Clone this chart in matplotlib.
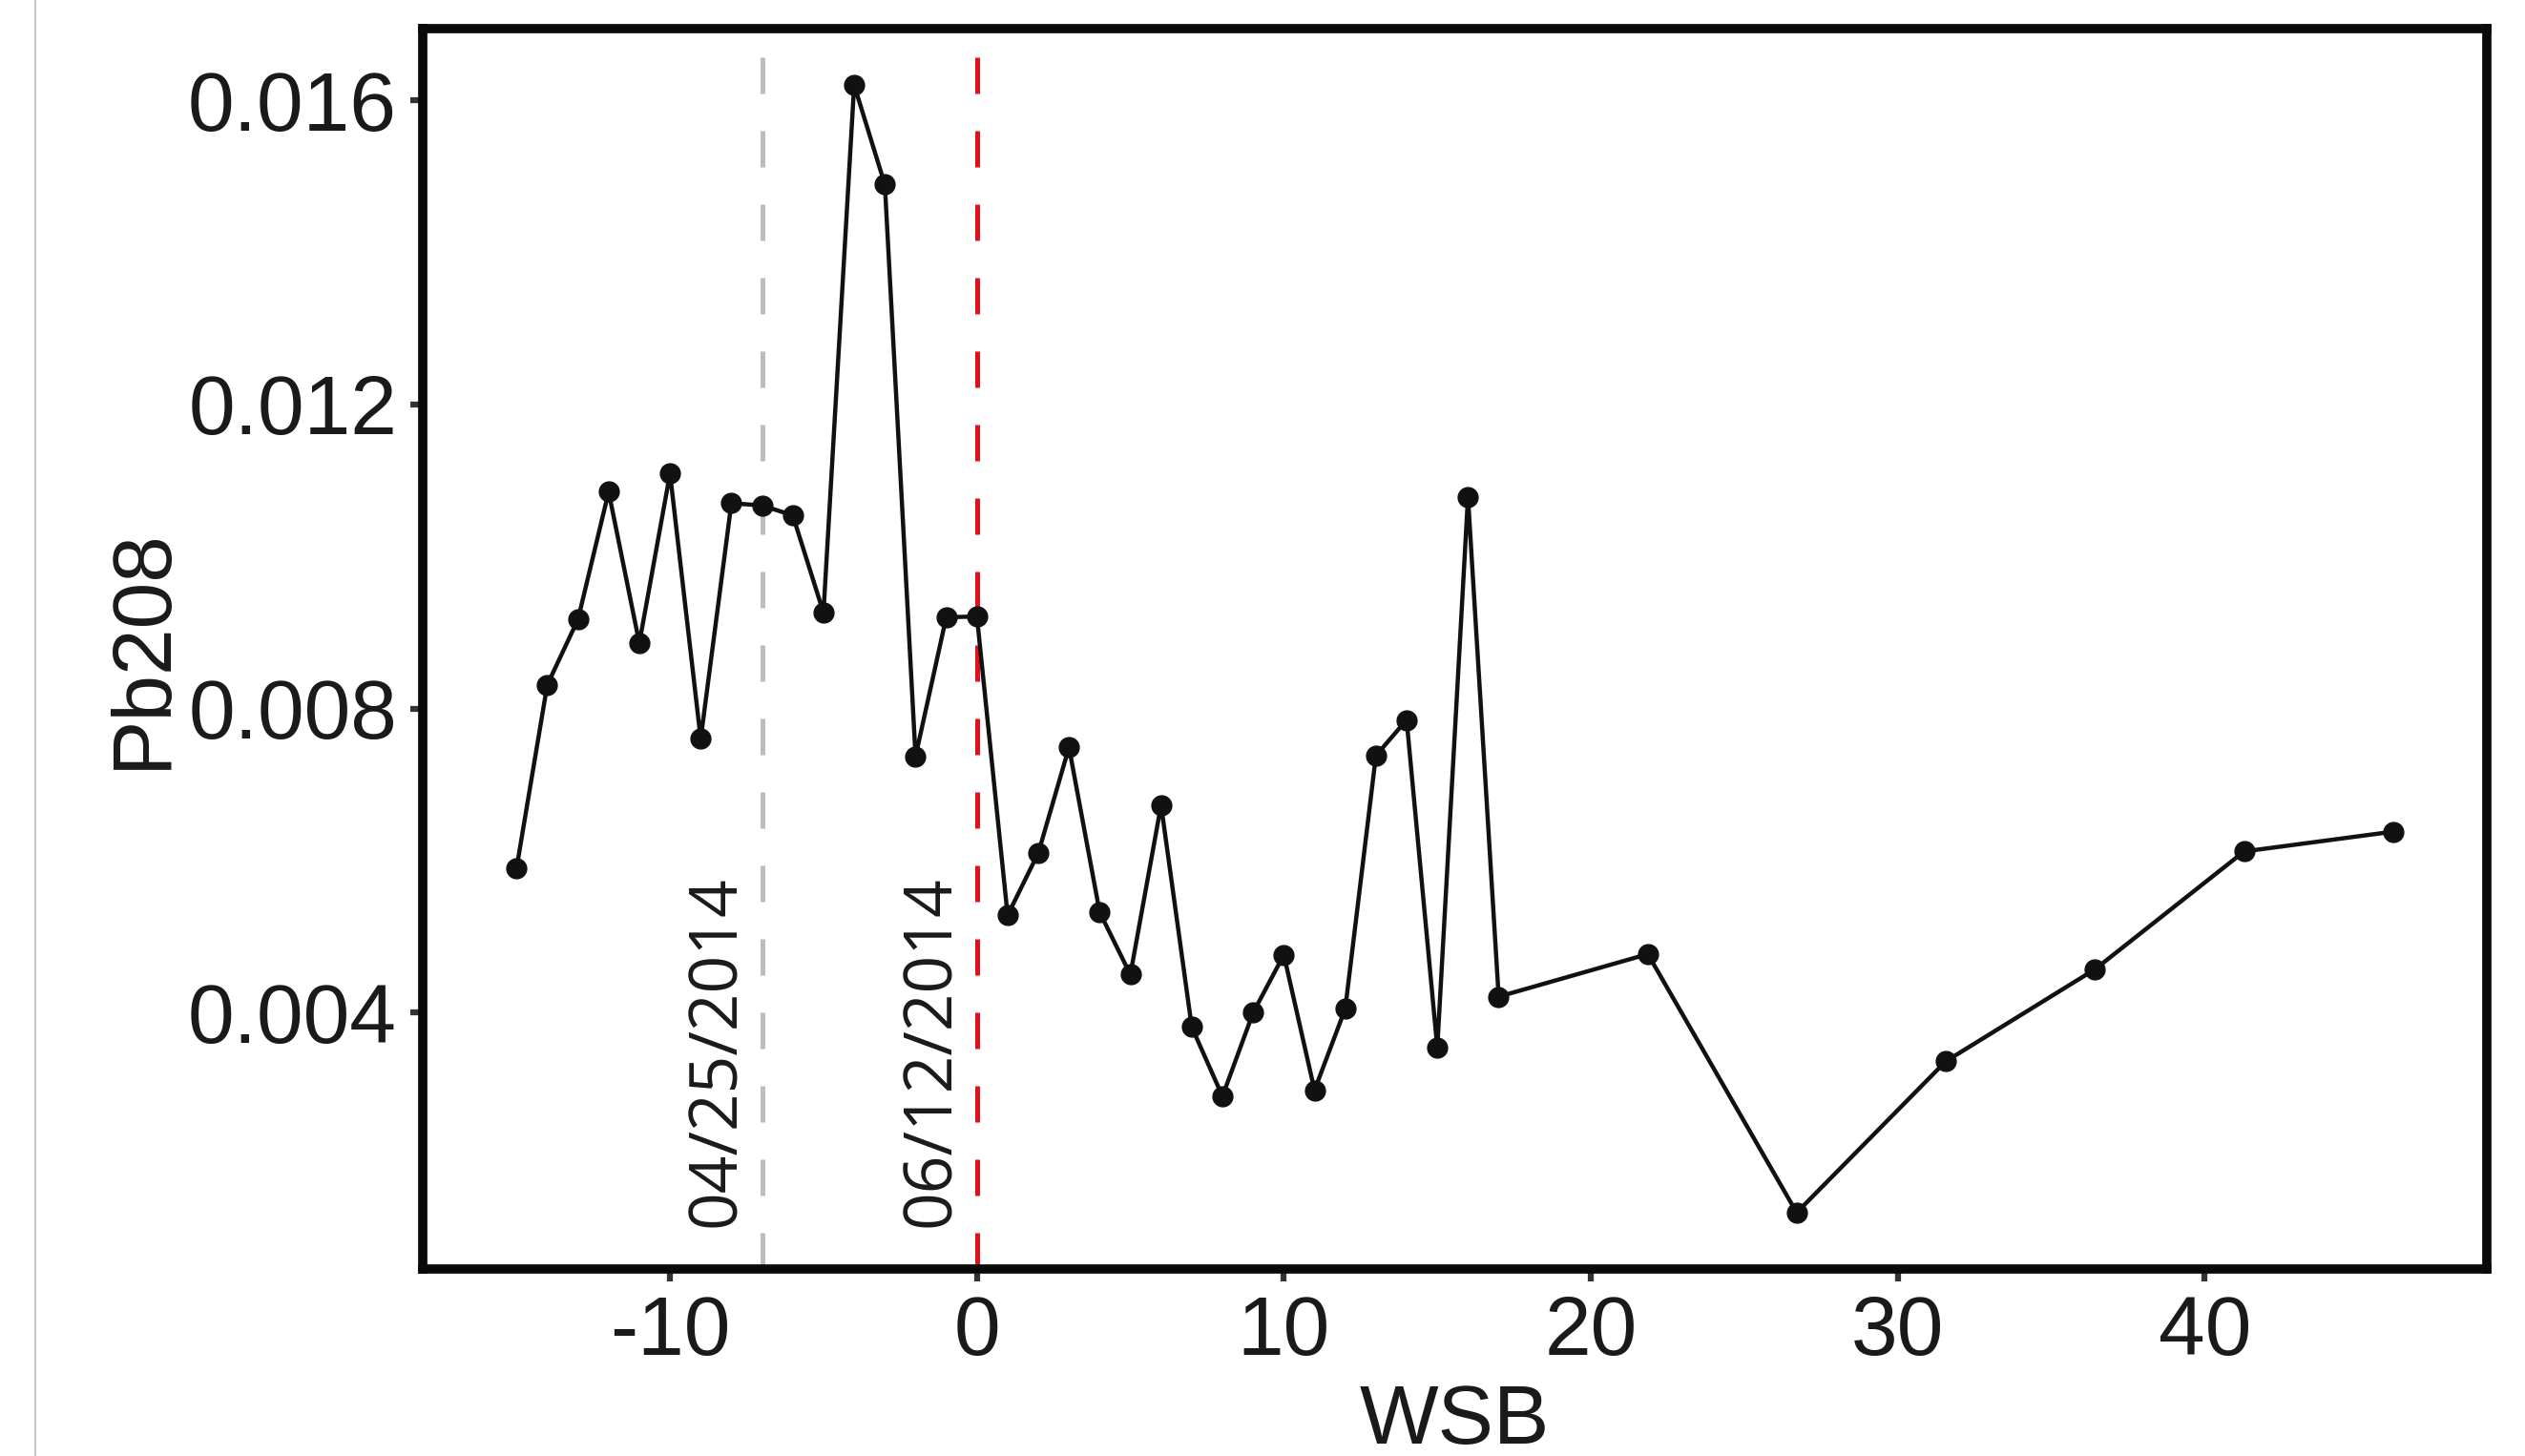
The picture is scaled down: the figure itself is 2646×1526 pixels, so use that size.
import numpy as np
import matplotlib
matplotlib.use("Agg")
import matplotlib.pyplot as plt
from matplotlib.lines import Line2D

# weeks since baseline (WSB) and Pb208 readings
wsb = [-15, -14, -13, -12, -11, -10, -9, -8, -7, -6, -5, -4, -3, -2, -1, 0,
       1, 2, 3, 4, 5, 6, 7, 8, 9, 10, 11, 12, 13, 14, 15, 16, 17,
       21.86, 26.71, 31.57, 36.43, 41.29, 46.14]
pb208 = [0.00590, 0.00831, 0.00917, 0.01085, 0.00886, 0.01109, 0.00760, 0.01070,
         0.01067, 0.01054, 0.00926, 0.01620, 0.01489, 0.00737, 0.00920, 0.00921,
         0.00528, 0.00610, 0.00749, 0.00532, 0.00450, 0.00673, 0.00381, 0.00290,
         0.00400, 0.00476, 0.00298, 0.00405, 0.00738, 0.00785, 0.00354, 0.01078,
         0.00421, 0.00477, 0.00137, 0.00336, 0.00457, 0.00612, 0.00638]

event_x = [-7, 0]
event_labels = ["04/25/2014", "06/12/2014"]
event_colors = ["#bdbdbd", "#e3101a"]

x_ticks = [-10, 0, 10, 20, 30, 40]
y_ticks = [0.004, 0.008, 0.012, 0.016]

W, H = 2646, 1526
fig = plt.figure(figsize=(W / 100, H / 100), dpi=100)
ax = fig.add_axes([443 / W, 1 - 1330 / H, (2606 - 443) / W, 1300 / H])

# light grey screenshot border at the left
fig.add_artist(Line2D([37 / W, 37 / W], [0, 1], color="#c8c8c8", lw=1.5))

dash = (0, (7.6, 7.8))
for xv, c in zip(event_x, event_colors):
    ax.axvline(xv, color=c, lw=3.6, linestyle=dash, zorder=1)

ax.plot(wsb, pb208, color="#111111", lw=3.2, marker="o", markersize=15,
        markerfacecolor="#111111", markeredgecolor="#111111", zorder=3)

for xv, lab in zip(event_x, event_labels):
    ax.text(xv - 0.88, 0.00118, lab, rotation=90, rotation_mode="anchor",
            ha="left", va="baseline", fontsize=50, color="#1a1a1a",
            family="Open Sans", zorder=2)

ax.margins(x=0.05, y=0.05)
ax.set_xticks(x_ticks)
ax.set_xticklabels([str(t) for t in x_ticks])
ax.set_yticks(y_ticks)
ax.set_yticklabels(["%.3f" % t for t in y_ticks])

for s in ax.spines.values():
    s.set_linewidth(7)
    s.set_color("#0a0a0a")

ax.tick_params(axis="both", length=9.4, width=4.5, color="#333333",
               labelsize=63, labelcolor="#1a1a1a", pad=10)
for lab in ax.get_xticklabels() + ax.get_yticklabels():
    lab.set_family("Liberation Sans")

ax.set_xlabel("WSB", fontsize=63, family="Liberation Sans", color="#1a1a1a")
ax.set_ylabel("Pb208", fontsize=63, family="Liberation Sans", color="#1a1a1a")
ax.xaxis.set_label_coords(0.5, -0.092)
ax.yaxis.set_label_coords(-0.1165, 0.5)

fig.savefig("out.png", dpi=100, facecolor="white")
